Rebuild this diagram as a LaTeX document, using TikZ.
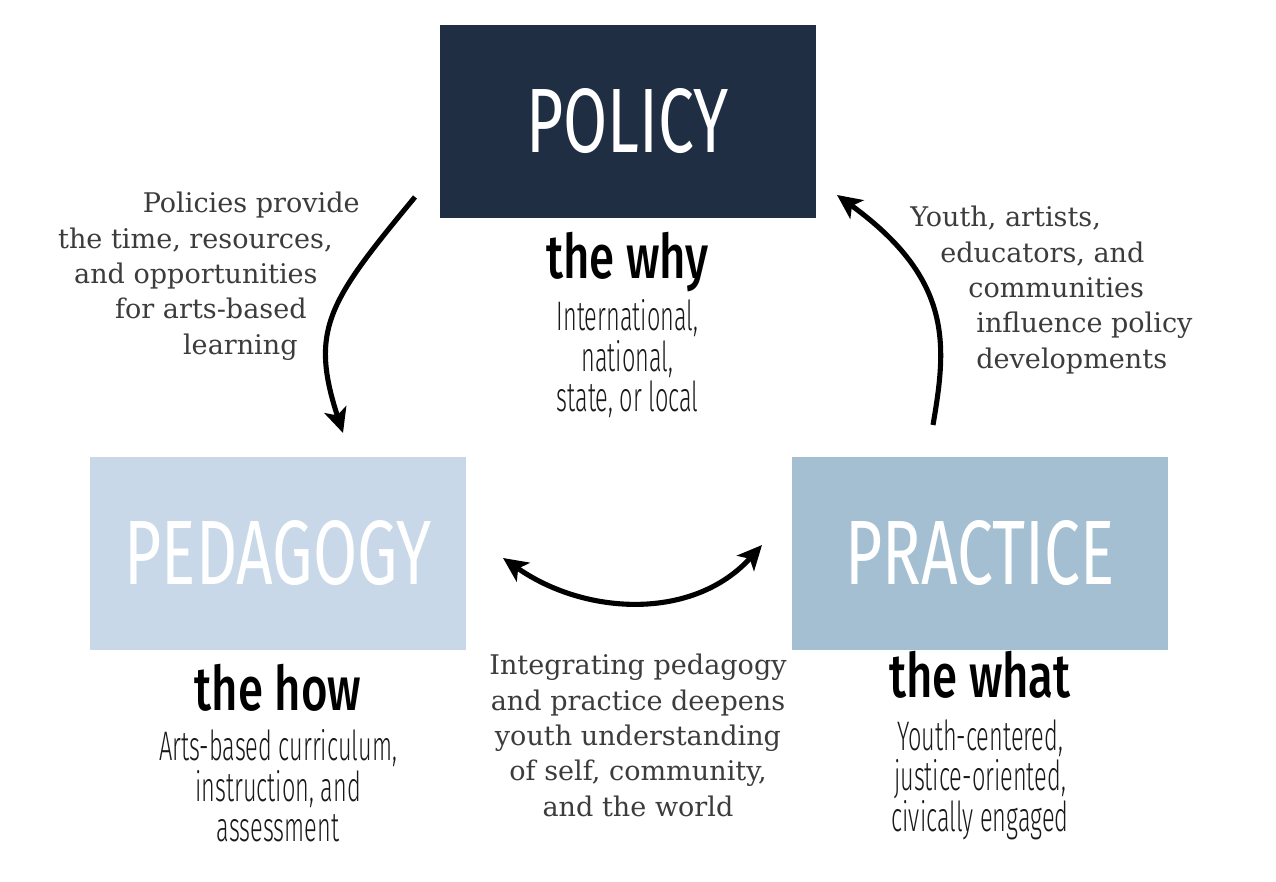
\documentclass[tikz,border=0pt]{standalone}
\usepackage{fontspec}
\usepackage{tikz}
\usetikzlibrary{positioning,arrows.meta,calc}
\newfontfamily\boxfont[FakeStretch=0.7]{Fira Sans}
\newfontfamily\headfont[FakeStretch=0.74]{Fira Sans Medium}
\newfontfamily\listfont[FakeStretch=0.57]{Fira Sans Light}
\newfontfamily\notefont{DejaVu Serif}
\definecolor{PolicyNavy}{RGB}{31,46,66}
\definecolor{PedagogyBlue}{RGB}{200,216,232}
\definecolor{PracticeBlue}{RGB}{163,191,209}
\definecolor{DarkText}{RGB}{25,25,25}
\definecolor{NoteText}{RGB}{60,60,60}

\begin{document}
\begin{tikzpicture}[
    box/.style={rectangle, minimum width=7.52cm, minimum height=3.86cm, inner sep=0pt,
        text=white, font=\boxfont\fontsize{52}{52}\selectfont},
    heading/.style={inner sep=0pt, font=\headfont\fontsize{35}{35}\selectfont, text=black},
    detail/.style={inner sep=0pt, align=center, font=\listfont\fontsize{23.5}{23}\selectfont, text=DarkText},
    note/.style={inner sep=0pt, font=\notefont\fontsize{15.4}{20.1}\selectfont, text=NoteText},
    link/.style={line width=2.9pt, -{Stealth[length=14pt, width=13pt, inset=3.5pt]}},
]
\useasboundingbox (0,0) rectangle (25.52,17.64);

\node[box, fill=PolicyNavy] (policy) at (12.55,15.21) {POLICY};
\node[box, fill=PedagogyBlue] (pedagogy) at (5.56,6.57) {PEDAGOGY};
\node[box, fill=PracticeBlue] (practice) at (19.6,6.57) {PRACTICE};

\node[heading, anchor=base] (why) at ($(policy.south)+(0,-1.2)$) {the why};
\node[detail, anchor=north] (whyinfo) at ($(why.base)+(0,-0.42)$) {International,\\national,\\state, or local};

\node[heading, anchor=base] (how) at ($(pedagogy.south)+(0,-1.2)$) {the how};
\node[detail, anchor=north] (howinfo) at ($(how.base)+(0,-0.38)$) {Arts-based curriculum,\\instruction, and\\assessment};

\node[heading, anchor=base] (what) at ($(practice.south)+(0,-0.94)$) {the what};
\node[detail, anchor=north] (whatinfo) at ($(what.base)+(0,-0.44)$) {Youth-centered,\\justice-oriented,\\civically engaged};

% arrow texts
\node[note, align=right, anchor=north east] (down) at (7.2,13.8)
    {Policies provide\\the time, resources,\rule{0.54cm}{0pt}\\and opportunities\rule{0.84cm}{0pt}\\for arts-based\rule{1.06cm}{0pt}\\learning\rule{1.24cm}{0pt}};
\node[note, align=left, anchor=north west] (up) at (18.2,13.52)
    {Youth, artists,\\\rule{0.6cm}{0pt}educators, and\\\rule{1.16cm}{0pt}communities\\\rule{1.32cm}{0pt}influence policy\\\rule{1.32cm}{0pt}developments};
\node[note, align=center, anchor=north] (mid) at (12.76,4.56)
    {Integrating pedagogy\\and practice deepens\\youth understanding\\of self, community,\\and the world};

\coordinate (downstart) at (8.3,13.7);
\coordinate (downend) at (6.86,8.98);
\coordinate (upstart) at (18.66,9.14);
\coordinate (upend) at (16.74,13.74);
\coordinate (leftend) at (10.06,6.48);
\coordinate (rightend) at (15.24,6.74);

\draw[link] (downstart) .. controls (6.58,11.62) and (6.18,11.06) .. (downend);
\draw[link] (upstart) .. controls (18.93,10.72) and (19.08,12.04) .. (upend);
\draw[link, {Stealth[length=14pt, width=13pt, inset=3.5pt]}-{Stealth[length=14pt, width=13pt, inset=3.5pt]}]
    (leftend) to[out=-35, in=228] (rightend);
\end{tikzpicture}
\end{document}
